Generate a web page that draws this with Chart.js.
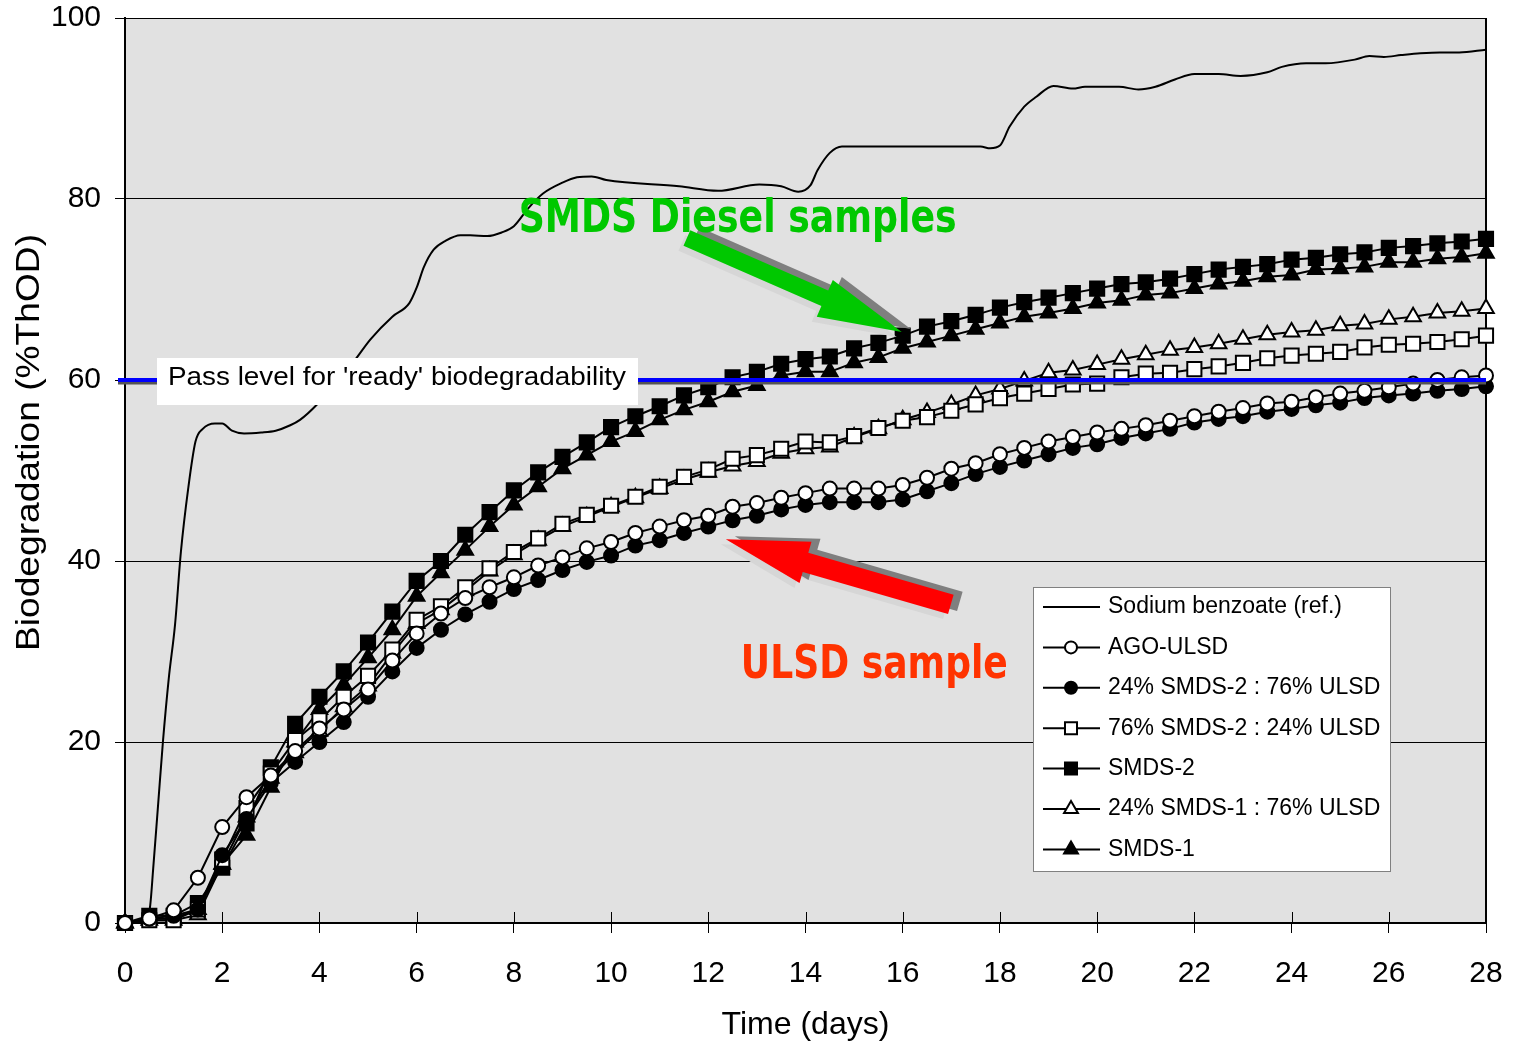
<!DOCTYPE html>
<html>
<head>
<meta charset="utf-8">
<script src="https://cdn.jsdelivr.net/npm/chart.js@4.4.1/dist/chart.umd.min.js"></script>
<style>
  html, body { margin: 0; padding: 0; background: #fff; }
</style>
</head>
<body>
<canvas id="chart" width="1513" height="1043"></canvas>
<script>
// sampling days for the test series (every half day)
var days = [0, 0.5, 1, 1.5, 2, 2.5, 3, 3.5, 4, 4.5, 5, 5.5, 6, 6.5, 7, 7.5, 8, 8.5, 9, 9.5,
  10, 10.5, 11, 11.5, 12, 12.5, 13, 13.5, 14, 14.5, 15, 15.5, 16, 16.5, 17, 17.5, 18, 18.5, 19, 19.5,
  20, 20.5, 21, 21.5, 22, 22.5, 23, 23.5, 24, 24.5, 25, 25.5, 26, 26.5, 27, 27.5, 28];

var agoUlsd = [0, 0.5, 1.4, 5.0, 10.6, 13.9, 16.3, 19.0, 21.5, 23.6, 25.8, 29.0, 32.0, 34.2, 35.9, 37.1, 38.2, 39.5, 40.4, 41.4,
  42.1, 43.1, 43.8, 44.5, 45.0, 46.0, 46.4, 47.0, 47.5, 48.0, 48.0, 48.0, 48.4, 49.2, 50.2, 50.8, 51.8, 52.5, 53.2, 53.7,
  54.2, 54.6, 55.0, 55.5, 56.0, 56.5, 56.9, 57.4, 57.6, 58.1, 58.5, 58.8, 59.2, 59.6, 60.0, 60.3, 60.5];

var smds2_24 = [0, 0.5, 0.8, 1.5, 7.5, 11.5, 15.5, 17.8, 20.0, 22.2, 25.0, 27.8, 30.4, 32.4, 34.1, 35.5, 36.9, 37.9, 39.0, 39.9,
  40.6, 41.7, 42.3, 43.1, 43.8, 44.5, 45.0, 45.7, 46.2, 46.5, 46.5, 46.5, 46.8, 47.7, 48.6, 49.6, 50.4, 51.1, 51.8, 52.5,
  52.9, 53.6, 54.1, 54.6, 55.3, 55.7, 56.0, 56.5, 56.8, 57.2, 57.5, 58.0, 58.3, 58.5, 58.8, 59.0, 59.3];

var smds2_76 = [0, 0.3, 0.3, 1.5, 7.0, 12.7, 16.5, 20.2, 22.4, 25.0, 27.3, 30.2, 33.5, 35.0, 37.1, 39.2, 41.0, 42.5, 44.1, 45.1,
  46.1, 47.1, 48.2, 49.3, 50.1, 51.3, 51.7, 52.4, 53.2, 53.1, 53.8, 54.7, 55.5, 55.9, 56.6, 57.3, 58.0, 58.5, 59.0, 59.5,
  59.6, 60.3, 60.7, 60.8, 61.2, 61.5, 61.9, 62.4, 62.7, 62.9, 63.1, 63.6, 63.9, 64.0, 64.2, 64.5, 64.9];

var smds2 = [0, 0.8, 0.8, 2.2, 6.1, 11.0, 17.2, 22.0, 25.0, 27.8, 31.0, 34.4, 37.8, 40.0, 42.9, 45.4, 47.8, 49.8, 51.5, 53.1,
  54.8, 56.0, 57.1, 58.3, 59.2, 60.3, 60.9, 61.8, 62.3, 62.6, 63.5, 64.1, 64.9, 65.9, 66.5, 67.2, 68.0, 68.6, 69.1, 69.6,
  70.1, 70.6, 70.8, 71.2, 71.7, 72.2, 72.5, 72.8, 73.3, 73.5, 73.9, 74.1, 74.6, 74.8, 75.1, 75.3, 75.6];

var smds1_24 = [0, 0.3, 0.3, 0.9, 6.5, 11.7, 16.0, 18.8, 21.2, 23.9, 26.2, 29.8, 33.1, 34.6, 36.7, 38.9, 40.7, 42.3, 43.8, 44.9,
  46.0, 47.0, 48.0, 49.0, 49.8, 50.5, 51.0, 51.9, 52.4, 52.6, 53.7, 54.6, 55.6, 56.4, 57.3, 58.3, 59.0, 59.9, 60.8, 61.1,
  61.7, 62.3, 62.8, 63.3, 63.6, 64.0, 64.5, 65.0, 65.3, 65.5, 66.0, 66.2, 66.7, 67.0, 67.4, 67.6, 67.9];

var smds1 = [0, 0.5, 0.5, 1.5, 6.5, 9.7, 15.0, 20.0, 23.6, 26.3, 29.3, 32.4, 36.1, 38.7, 41.2, 43.8, 46.2, 48.2, 50.2, 51.7,
  53.2, 54.3, 55.6, 56.7, 57.6, 58.7, 59.4, 60.5, 60.9, 60.9, 61.9, 62.5, 63.5, 64.2, 64.9, 65.6, 66.3, 67.0, 67.4, 67.9,
  68.5, 68.8, 69.4, 69.6, 70.1, 70.6, 70.9, 71.4, 71.6, 72.2, 72.3, 72.5, 73.0, 73.0, 73.4, 73.6, 74.0];

// sodium benzoate reference curve (continuous trace)
var refDays = [0, 0.45, 0.52, 0.58, 0.68, 0.78, 0.9, 1.03, 1.15, 1.3, 1.45, 1.6, 1.85, 2.0, 2.2, 2.45, 2.8, 3.1, 3.4, 3.6,
  3.95, 4.3, 4.7, 5.05, 5.5, 5.85, 6.0, 6.15, 6.35, 6.6, 6.9, 7.1, 7.45, 7.75, 8.0, 8.3, 8.6, 9.0, 9.3, 9.6,
  9.9, 11.4, 12.2, 13.05, 13.5, 13.85, 14.1, 14.25, 14.5, 14.75, 17.6, 17.8, 18.0, 18.2, 18.5, 18.75, 19.1, 19.5, 19.75, 20.45,
  20.85, 21.2, 21.6, 22.0, 22.5, 22.95, 23.5, 23.8, 24.3, 24.7, 25.3, 25.6, 25.9, 26.25, 26.65, 27.05, 27.45, 28];
var refValues = [0, 0.2, 2, 6, 13, 20, 27, 33, 41, 48, 53.2, 54.6, 55.2, 55.2, 54.4, 54.1, 54.2, 54.4, 55.0, 55.6,
  57.3, 59.5, 62.0, 64.5, 67.0, 68.5, 70.2, 72.5, 74.4, 75.4, 76.0, 76.0, 75.9, 76.3, 77.0, 79.0, 80.6, 81.8, 82.4, 82.5,
  82.1, 81.4, 80.9, 81.6, 81.4, 80.8, 81.5, 83.2, 85.1, 85.8, 85.8, 85.6, 85.9, 88.0, 90.2, 91.3, 92.5, 92.2, 92.4, 92.4,
  92.1, 92.4, 93.2, 93.8, 93.8, 93.6, 94.0, 94.6, 95.0, 95.0, 95.4, 95.8, 95.7, 95.9, 96.1, 96.2, 96.2, 96.5];

var seriesNames = ['Sodium benzoate (ref.)', 'AGO-ULSD', '24% SMDS-2 : 76% ULSD', '76% SMDS-2 : 24% ULSD',
  'SMDS-2', '24% SMDS-1 : 76% ULSD', 'SMDS-1'];

var passLevel = 60;
var passLabel = "Pass level for 'ready' biodegradability";

var FONT = '"Liberation Sans", Arial, sans-serif';

function pairs(xs, ys) {
  var out = [];
  for (var i = 0; i < xs.length; i++) out.push({ x: xs[i], y: ys[i] });
  return out;
}

function markerSet(label, values, style, radius, fill) {
  return {
    label: label,
    data: pairs(days, values),
    borderColor: '#000',
    borderWidth: 2,
    pointStyle: style,
    pointRadius: radius,
    pointBackgroundColor: fill,
    pointBorderColor: '#000',
    pointBorderWidth: 2,
    tension: 0,
    fill: false,
    clip: false
  };
}

var datasets = [
  {
    label: seriesNames[0],
    data: pairs(refDays, refValues),
    borderColor: '#000',
    borderWidth: 2,
    pointRadius: 0,
    cubicInterpolationMode: 'monotone',
    fill: false,
    order: 10
  },
  markerSet(seriesNames[1], agoUlsd, 'circle', 7, '#fff'),
  markerSet(seriesNames[2], smds2_24, 'circle', 7, '#000'),
  markerSet(seriesNames[3], smds2_76, 'rect', 10, '#fff'),
  markerSet(seriesNames[4], smds2, 'rect', 10, '#000'),
  markerSet(seriesNames[5], smds1_24, 'triangle', 9, '#fff'),
  markerSet(seriesNames[6], smds1, 'triangle', 9, '#000')
];

// legend sizes (smaller markers than on the plot)
var legendMarks = [
  null,
  { style: 'circle', r: 6, fill: '#fff' },
  { style: 'circle', r: 6, fill: '#000' },
  { style: 'rect', r: 8.5, fill: '#fff' },
  { style: 'rect', r: 8.5, fill: '#000' },
  { style: 'triangle', r: 8, fill: '#fff' },
  { style: 'triangle', r: 8, fill: '#000' }
];

function drawMark(ctx, m, x, y) {
  ctx.fillStyle = m.fill;
  ctx.strokeStyle = '#000';
  ctx.lineWidth = 2;
  if (Chart.helpers && Chart.helpers.drawPoint) {
    Chart.helpers.drawPoint(ctx, { pointStyle: m.style, radius: m.r, borderWidth: 2, rotation: 0 }, x, y);
  }
}

function arrow(ctx, x0, y0, x1, y1, shaft, headW, headL) {
  var dx = x1 - x0, dy = y1 - y0, L = Math.sqrt(dx * dx + dy * dy);
  var ux = dx / L, uy = dy / L, px = -uy, py = ux;
  var bx = x1 - ux * headL, by = y1 - uy * headL;
  ctx.beginPath();
  ctx.moveTo(x0 + px * shaft / 2, y0 + py * shaft / 2);
  ctx.lineTo(bx + px * shaft / 2, by + py * shaft / 2);
  ctx.lineTo(bx + px * headW / 2, by + py * headW / 2);
  ctx.lineTo(x1, y1);
  ctx.lineTo(bx - px * headW / 2, by - py * headW / 2);
  ctx.lineTo(bx - px * shaft / 2, by - py * shaft / 2);
  ctx.lineTo(x0 - px * shaft / 2, y0 - py * shaft / 2);
  ctx.closePath();
  ctx.fill();
}

function fitText(ctx, text, x, y, width) {
  var w = ctx.measureText(text).width;
  ctx.save();
  ctx.translate(x, y);
  ctx.scale(width / w, 1);
  ctx.fillText(text, 0, 0);
  ctx.restore();
}

// annotations, in data units (day, %)
var notes = [
  { text: 'SMDS Diesel samples', color: '#00c800', day: 8.1, val: 76.4, width: 438,
    from: [11.56, 75.7], to: [15.98, 65.3], shaft: 17, headW: 40, headL: 84 },
  { text: 'ULSD sample', color: '#ff3300', day: 12.67, val: 27.1, width: 267, arrowColor: '#ff0000',
    from: [16.99, 35.2], to: [12.36, 42.4], shaft: 20, headW: 43, headL: 83 }
];

var decor = {
  id: 'decor',
  beforeDraw: function (chart) {
    var a = chart.chartArea, ctx = chart.ctx;
    ctx.save();
    ctx.fillStyle = '#fff';
    ctx.fillRect(0, 0, chart.width, chart.height);
    ctx.fillStyle = '#e1e1e1';
    ctx.fillRect(a.left, a.top, a.right - a.left, a.bottom - a.top);
    ctx.restore();
  },
  beforeDatasetsDraw: function (chart) {
    var a = chart.chartArea, ctx = chart.ctx, xs = chart.scales.x;
    ctx.save();
    ctx.strokeStyle = '#000';
    ctx.lineWidth = 2;
    ctx.beginPath();
    ctx.moveTo(a.right, a.top);
    ctx.lineTo(a.right, a.bottom);
    ctx.stroke();
    // inner half of the crossing x ticks
    ctx.lineWidth = 1;
    xs.ticks.forEach(function (t) {
      var px = Math.round(xs.getPixelForValue(t.value)) + 0.5;
      ctx.beginPath();
      ctx.moveTo(px, a.bottom);
      ctx.lineTo(px, a.bottom - 11);
      ctx.stroke();
    });
    ctx.restore();
  },
  afterDatasetsDraw: function (chart) {
    var a = chart.chartArea, ctx = chart.ctx, xs = chart.scales.x, ys = chart.scales.y;
    ctx.save();

    // pass level line
    var yp = ys.getPixelForValue(passLevel);
    ctx.lineWidth = 3;
    ctx.strokeStyle = '#555';
    ctx.beginPath(); ctx.moveTo(a.left - 7, yp + 3); ctx.lineTo(a.right, yp + 3); ctx.stroke();
    ctx.lineWidth = 4;
    ctx.strokeStyle = '#0000ff';
    ctx.beginPath(); ctx.moveTo(a.left - 7, yp); ctx.lineTo(a.right, yp); ctx.stroke();

    ctx.fillStyle = '#fff';
    ctx.fillRect(a.left + 32, yp - 22, 481, 47);
    ctx.fillStyle = '#000';
    ctx.font = '26px ' + FONT;
    ctx.textBaseline = 'middle';
    fitText(ctx, passLabel, a.left + 43, yp - 2, 458);

    // arrows and callout text
    notes.forEach(function (n) {
      var x0 = xs.getPixelForValue(n.from[0]), y0 = ys.getPixelForValue(n.from[1]);
      var x1 = xs.getPixelForValue(n.to[0]), y1 = ys.getPixelForValue(n.to[1]);
      ctx.fillStyle = '#d6d6d6';
      arrow(ctx, x0 - 5, y0 + 5, x1 - 5, y1 + 5, n.shaft, n.headW, n.headL);
      ctx.fillStyle = '#7f7f7f';
      arrow(ctx, x0 + 9, y0 - 3, x1 + 9, y1 - 3, n.shaft, n.headW, n.headL);
      ctx.fillStyle = n.arrowColor || n.color;
      arrow(ctx, x0, y0, x1, y1, n.shaft, n.headW, n.headL);

      ctx.fillStyle = n.color;
      ctx.font = 'bold 47px "DejaVu Sans Condensed", "Liberation Sans Narrow", sans-serif';
      ctx.textBaseline = 'alphabetic';
      fitText(ctx, n.text, xs.getPixelForValue(n.day), ys.getPixelForValue(n.val), n.width);
    });

    // legend
    var lx = 1033, ly = 587, lw = 357, lh = 284, row = 40.4;
    ctx.fillStyle = '#fff';
    ctx.fillRect(lx, ly, lw, lh);
    ctx.strokeStyle = '#808080';
    ctx.lineWidth = 1;
    ctx.strokeRect(lx + 0.5, ly + 0.5, lw, lh);
    ctx.font = '23px ' + FONT;
    ctx.textBaseline = 'middle';
    for (var i = 0; i < seriesNames.length; i++) {
      var cy = ly + 20 + i * row;
      ctx.strokeStyle = '#000';
      ctx.lineWidth = 2;
      ctx.beginPath(); ctx.moveTo(lx + 10, cy); ctx.lineTo(lx + 67, cy); ctx.stroke();
      if (legendMarks[i]) drawMark(ctx, legendMarks[i], lx + 38, cy);
      ctx.fillStyle = '#000';
      ctx.fillText(seriesNames[i], lx + 75, cy);
    }

    // axis titles
    ctx.font = '32px ' + FONT;
    ctx.textBaseline = 'middle';
    fitText(ctx, 'Time (days)', (a.left + a.right) / 2 - 84, 1025, 168);
    ctx.translate(30, 443);
    ctx.rotate(-Math.PI / 2);
    ctx.font = '33px ' + FONT;
    fitText(ctx, 'Biodegradation (%ThOD)', -208, 0, 417);
    ctx.restore();
  }
};

new Chart(document.getElementById('chart'), {
  type: 'line',
  data: { datasets: datasets },
  options: {
    responsive: false,
    animation: false,
    events: [],
    layout: { padding: { top: 18, right: 27, left: 0, bottom: 0 } },
    plugins: { legend: { display: false }, tooltip: { enabled: false } },
    scales: {
      x: {
        type: 'linear',
        min: 0, max: 28,
        afterFit: function (s) { s.height = 120; s.paddingLeft = 0; s.paddingRight = 0; },
        ticks: { stepSize: 2, color: '#000', font: { family: FONT, size: 30 }, padding: 23, maxRotation: 0 },
        grid: { drawOnChartArea: false, drawTicks: true, tickLength: 10, color: '#000', lineWidth: 1 },
        border: { display: true, color: '#000', width: 2 }
      },
      y: {
        min: 0, max: 100,
        afterFit: function (s) { s.width = 125; s.paddingTop = 0; s.paddingBottom = 0; },
        ticks: { stepSize: 20, color: '#000', font: { family: FONT, size: 30 }, padding: 14 },
        grid: { color: '#000', lineWidth: 1, drawTicks: true, tickLength: 10 },
        border: { display: true, color: '#000', width: 2 }
      }
    }
  },
  plugins: [decor]
});
</script>
</body>
</html>
